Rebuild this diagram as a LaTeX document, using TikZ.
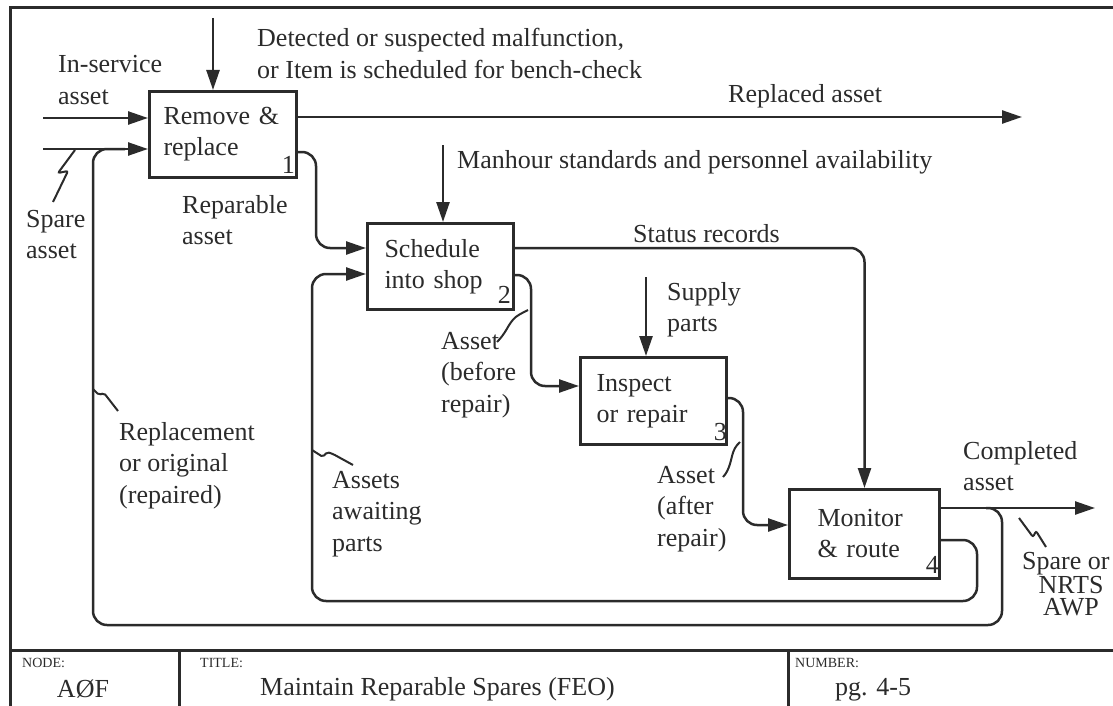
\documentclass[tikz,border=0pt]{standalone}
\usepackage{fontspec}
\setmainfont{Liberation Serif}
\usetikzlibrary{arrows.meta,positioning,calc}
\definecolor{Ink}{HTML}{2B2B2B}
\tikzset{
  >={Triangle[length=20pt,width=13pt]},
  act/.style={draw=Ink,line width=3pt,anchor=north west,align=left,inner ysep=0pt,text=Ink,font=\fontsize{26}{31}\selectfont},
  flow/.style={->,draw=Ink,line width=2.5pt,rounded corners=14pt},
  loopline/.style={flow,-},
  squig/.style={draw=Ink,line width=2pt,rounded corners=2pt},
  lab/.style={anchor=base west,align=left,inner sep=0pt,text=Ink,font=\fontsize{26}{31.5}\selectfont},
  num/.style={lab,anchor=base east},
  tbsmall/.style={lab,font=\fontsize{14}{16}\selectfont},
  frame/.style={draw=Ink,line width=3pt}
}
\begin{document}
\begin{tikzpicture}[x=1pt,y=-1pt]
  \useasboundingbox (0,0) rectangle (1113,706);
  % frame and title block
  \draw[frame] (10,706) -- (10,8) -- (1113,8);
  \draw[frame] (10,650) -- (1113,650);
  \draw[frame] (179,650) -- (179,706);
  \draw[frame] (788,650) -- (788,706);
  \node[tbsmall] (tnode) at (22,667) {NODE:};
  \node[tbsmall] (ttitle) at (200,667) {TITLE:};
  \node[tbsmall] (tnum) at (795,667) {NUMBER:};
  \node[lab,anchor=base] (nodeid) at (83,697) {AØF};
  \node[lab] (title) at (260,695) {Maintain Reparable Spares (FEO)};
  \node[lab] (page) at (835,695) {pg. 4-5};

  % activities
  \node[act,text width=119pt,inner xsep=14pt,minimum height=86pt] (rr) at (148,90) {Remove \&\\replace};
  \node[act,text width=112pt,inner xsep=17pt,minimum height=86pt] (sh) at (366,222) {Schedule\\into shop};
  \node[act,text width=114pt,inner xsep=16pt,minimum height=87pt] (ir) at (579,356) {Inspect\\or repair};
  \node[act,text width=94pt,inner xsep=28pt,minimum height=89pt] (mr) at (788,488) {Monitor\\\& route};
  \node[num] (n1) at ($(rr.south east)+(-3,-6)$) {1};
  \node[num] (n2) at ($(sh.south east)+(-4,-8)$) {2};
  \node[num] (n3) at ($(ir.south east)+(-1,-6)$) {3};
  \node[num] (n4) at ($(mr.south east)+(-2,-7)$) {4};

  % free ends
  \coordinate (ctl1) at (213,18);
  \coordinate (ctl2) at (443,145);
  \coordinate (ctl3) at (646,277);
  \coordinate (in1) at (43,118);
  \coordinate (in2) at (43,149);
  \coordinate (out1) at (1022,117);
  \coordinate (out4) at (1095,508);
  \coordinate (br1) at (986,508);

  % controls
  \draw[flow] (ctl1) -- (ctl1 |- rr.north);
  \draw[flow] (ctl2) -- (ctl2 |- sh.north);
  \draw[flow] (ctl3) -- (ctl3 |- ir.north);
  % inputs and outputs
  \draw[flow] (in1) -- (in1 -| rr.west);
  \draw[flow] (in2) -- (in2 -| rr.west);
  \draw[flow] (out1 -| rr.east) -- (out1);
  \draw[flow] ($(rr.north east)+(0,62)$) -- ++(18,0) |- ($(sh.north west)+(0,26)$);
  \draw[flow] ($(sh.north east)+(0,26)$) -| (mr.north);
  \draw[flow] ($(sh.north east)+(0,53)$) -- ++(16,0) |- ($(ir.north west)+(0,30)$);
  \draw[flow] ($(ir.north east)+(0,42)$) -- ++(15,0) |- ($(mr.north west)+(0,37)$);
  \draw[flow] ($(mr.north east)+(0,20)$) -- (out4);
  % loops back
  \draw[loopline] (br1) -| (1002,625) -| (93,149) -- (125,149);
  \draw[flow] ($(mr.north east)+(0,52)$) -| (977,601) -| (312,274) -- ($(sh.north west)+(0,52)$);

  % labels (anchored at the last line's baseline)
  \node[lab] (det) at (257,78.5) {Detected or suspected malfunction,\\or Item is scheduled for bench-check};
  \node[lab] (insv) at (58,104.5) {In-service\\asset};
  \node[lab] (spare) at (26,258.5) {Spare\\asset};
  \node[lab] (repa) at (182,244.5) {Reparable\\asset};
  \node[lab] (repl) at (728,103) {Replaced asset};
  \node[lab] (man) at (457,168) {Manhour standards and personnel availability};
  \node[lab] (stat) at (633,242) {Status records};
  \node[lab] (sup) at (667,331.5) {Supply\\parts};
  \node[lab] (before) at (441,412) {Asset\\(before\\repair)};
  \node[lab] (await) at (332,551) {Assets\\awaiting\\parts};
  \node[lab] (after) at (657,546) {Asset\\(after\\repair)};
  \node[lab] (repo) at (119,503) {Replacement\\or original\\(repaired)};
  \node[lab] (comp) at (963,490.5) {Completed\\asset};
  \node[lab] (spor) at (1022,569) {Spare or};
  \node[lab,anchor=base,align=center,font=\fontsize{26}{22}\selectfont] (nrts) at (1071,615) {NRTS\\AWP};

  % squiggles
  \draw[squig] (75,150) -- (58,173) -- (68,171) -- (53,202);
  \draw[squig] (93,389) -- (99,395) -- (104,393) -- (118,411);
  \draw[squig] (312,450) -- (323,457) -- (327,452) -- (333,454) -- (353,465);
  \draw[squig] (497,342) .. controls (505,334) and (508,326) .. (512,321) .. controls (516,316) and (522,313) .. (528,310);
  \draw[squig] (723,477) .. controls (730,470) and (731,458) .. (734,450) .. controls (736,446) and (738,444) .. (740,442);
  \draw[squig] (1019,518) -- (1033,537) -- (1036,531) -- (1046,547);
\end{tikzpicture}
\end{document}
